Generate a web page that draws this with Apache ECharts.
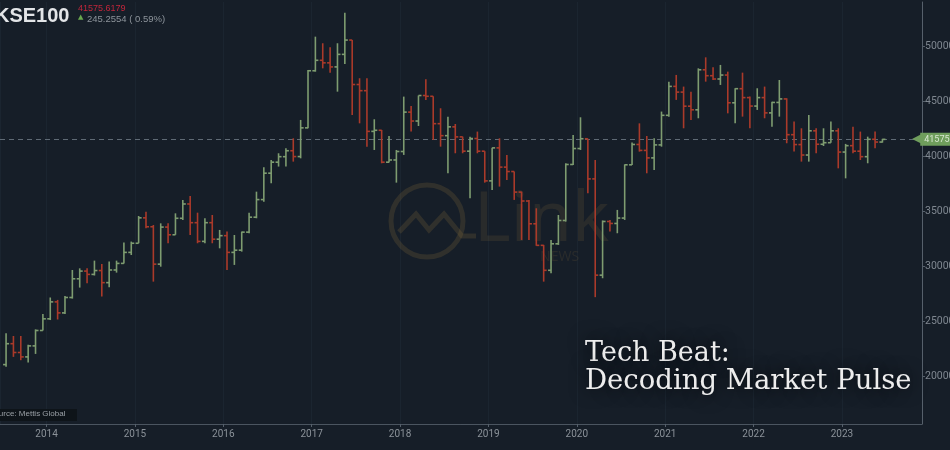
<!DOCTYPE html>
<html>
<head>
<meta charset="utf-8">
<script src="https://cdn.jsdelivr.net/npm/echarts@6/dist/echarts.min.js"></script>
<style>
  html, body { margin: 0; padding: 0; background: #161e28; }
  #chart { width: 950px; height: 450px; }
</style>
</head>
<body>
<div id="chart"></div>
<script>
// Monthly KSE100 bars, Jul 2013 - Jun 2023
const months = [
  '2013-07','2013-08','2013-09','2013-10','2013-11','2013-12',
  '2014-01','2014-02','2014-03','2014-04','2014-05','2014-06','2014-07','2014-08','2014-09','2014-10','2014-11','2014-12',
  '2015-01','2015-02','2015-03','2015-04','2015-05','2015-06','2015-07','2015-08','2015-09','2015-10','2015-11','2015-12',
  '2016-01','2016-02','2016-03','2016-04','2016-05','2016-06','2016-07','2016-08','2016-09','2016-10','2016-11','2016-12',
  '2017-01','2017-02','2017-03','2017-04','2017-05','2017-06','2017-07','2017-08','2017-09','2017-10','2017-11','2017-12',
  '2018-01','2018-02','2018-03','2018-04','2018-05','2018-06','2018-07','2018-08','2018-09','2018-10','2018-11','2018-12',
  '2019-01','2019-02','2019-03','2019-04','2019-05','2019-06','2019-07','2019-08','2019-09','2019-10','2019-11','2019-12',
  '2020-01','2020-02','2020-03','2020-04','2020-05','2020-06','2020-07','2020-08','2020-09','2020-10','2020-11','2020-12',
  '2021-01','2021-02','2021-03','2021-04','2021-05','2021-06','2021-07','2021-08','2021-09','2021-10','2021-11','2021-12',
  '2022-01','2022-02','2022-03','2022-04','2022-05','2022-06','2022-07','2022-08','2022-09','2022-10','2022-11','2022-12',
  '2023-01','2023-02','2023-03','2023-04','2023-05','2023-06'
];
const opens = [
  21100,23000,22200,21800,22800,24200,
  25260,26800,25800,27200,28900,29600,29300,29650,28550,29700,30300,31300,
  32130,34440,33630,30230,33600,32900,34400,35700,34000,32300,34000,32500,
  32820,31300,31500,33140,34500,36100,38500,39500,40000,40540,40010,42620,
  47810,48760,48530,48160,49300,50600,46560,46000,42300,42400,39500,39700,
  40470,44050,43240,45560,45490,43000,41910,42710,41800,40500,41650,40500,
  37800,40800,39050,38650,36780,35970,33900,31940,29670,32080,34200,39290,
  40740,41630,37980,29230,34110,33930,34420,39260,41110,40570,39890,41070,
  43760,46390,45870,44590,44260,47900,47360,47060,47420,44900,46180,45370,
  44600,45370,43980,44930,45250,42000,41100,40150,42350,41130,41270,42350,
  40420,41000,40500,40000,41580,41330
];
const closes = [
  23000,22200,21800,22800,24200,25260,
  26800,25800,27200,28900,29600,29300,29650,28550,29700,30300,31300,32130,
  34440,33630,30230,33600,32900,34400,35700,34000,32300,34000,32500,32820,
  31300,31500,33140,34500,36100,38500,39500,40000,40540,40010,42620,47810,
  48760,48530,48160,49300,50600,46560,46000,42300,42400,39500,39700,40470,
  44050,43240,45560,45490,43000,41910,42710,41800,40500,41650,40500,37800,
  40800,39050,38650,36780,35970,33900,31940,29670,32080,34200,39290,40740,
  41630,37980,29230,34110,33930,34420,39260,41110,40570,39890,41070,43760,
  46390,45870,44590,44260,47900,47360,47060,47420,44900,46180,45370,44600,
  45370,43980,44930,45250,42000,41100,40150,42350,41130,41270,42350,40420,
  41000,40500,40000,41580,41330,41575
];
const lows = [
  20900,21800,21500,21280,22070,24200,
  25150,25200,25700,27100,28100,28500,29200,27280,28130,29460,30300,31060,
  32130,33490,28640,30000,32130,32900,34250,32880,32130,32130,32130,31670,
  29700,30160,31370,33040,34400,35910,37580,39100,39100,39550,39850,42580,
  47730,48030,47640,45910,48430,43790,43030,40910,40610,39400,39460,37640,
  40160,42280,42790,45160,41520,40910,38490,40310,40310,36220,40310,37640,
  36970,37280,37880,36070,32430,32430,31900,28640,29400,31980,34100,39250,
  40610,36670,27230,28950,33190,33040,34250,39250,40460,38490,38790,40910,
  43640,45160,42580,43340,43490,46820,46970,46520,43940,43030,43640,42580,
  44250,43490,42730,43640,41220,40460,39550,39550,40310,40970,41270,38940,
  38030,40310,39700,39400,40760,41280
];
const highs = [
  23950,23700,23700,22900,24300,25700,
  27200,26980,27340,29700,29850,29850,30550,30250,30460,30550,32190,32280,
  34610,35000,33790,33940,33940,34850,36070,36430,34910,34400,34700,33340,
  33190,32880,33190,34910,36820,39030,39700,40310,40760,41670,43340,47880,
  50910,50310,49940,50310,53090,50610,47130,47130,43400,42430,41880,40610,
  45460,44610,45560,47030,45490,44400,43640,42970,41820,41820,42280,40500,
  40800,41670,40150,38650,36820,36070,35310,31980,32430,34700,39400,41970,
  43580,41630,39700,34200,34250,35160,39300,41280,43030,41880,41670,44100,
  46820,47430,46370,45910,48030,49030,48130,48340,47730,46220,47640,45460,
  46220,46370,45000,46970,45310,43190,42580,43790,42580,42580,43190,42580,
  41160,42730,42280,41820,42280,41620
];
const yearTicks = ['2014','2015','2016','2017','2018','2019','2020','2021','2022','2023'];
const lastPrice = 41575.6179;
const changeText = '245.2554 ( 0.59%)';

const UP = '#7e9c70', DOWN = '#aa3a2a';

// x value: fractional year at month centre
const seriesData = months.map((m, i) => {
  const [y, mo] = m.split('-').map(Number);
  return [y + (mo - 0.5) / 12, opens[i], closes[i], lows[i], highs[i]];
});

const chart = echarts.init(document.getElementById('chart'), null, { renderer: 'canvas' });

const option = {
  backgroundColor: '#161e28',
  animation: false,
  grid: { left: 0, right: 28, top: 2, bottom: 26, outerBoundsMode: 'none', containLabel: false },
  xAxis: {
    type: 'value',
    min: 2013.473,
    max: 2023.906,
    minInterval: 1,
    maxInterval: 1,
    splitNumber: 10,
    axisLine: { show: true, lineStyle: { color: '#4b5560', width: 1 } },
    axisTick: { show: true, length: 3, lineStyle: { color: '#56606b' } },
    axisLabel: {
      color: '#8b9299', fontSize: 10, fontFamily: 'Roboto', margin: 5,
      showMinLabel: false, showMaxLabel: false,
      formatter: v => { const s = String(Math.round(v)); return yearTicks.includes(s) ? s : ''; }
    },
    splitLine: { show: true, lineStyle: { color: '#1b2530', width: 1 } }
  },
  yAxis: {
    type: 'value',
    position: 'right',
    min: 15700,
    max: 54060,
    minInterval: 5000,
    maxInterval: 5000,
    splitNumber: 8,
    axisLine: { show: true, lineStyle: { color: '#56606b', width: 1 } },
    axisTick: { show: true, length: 3, lineStyle: { color: '#56606b' } },
    axisLabel: {
      color: '#7f8790', fontSize: 10.5, fontFamily: 'Roboto', margin: 3,
      showMinLabel: false, showMaxLabel: false,
      formatter: v => String(v)
    },
    splitLine: { show: false }
  },
  graphic: [
    // watermark
    { type: 'circle', shape: { cx: 427, cy: 221, r: 36 }, style: { fill: 'none', stroke: 'rgba(140,115,60,0.22)', lineWidth: 5 }, z: 1, silent: true },
    { type: 'polyline', shape: { points: [[399, 232], [416, 214], [429, 230], [444, 214], [462, 236], [476, 236]] }, style: { fill: 'none', stroke: 'rgba(140,115,60,0.22)', lineWidth: 5 }, z: 1, silent: true },
    { type: 'text', left: 474, top: 186, style: { text: 'Link', font: '70px "Noto Sans"', fill: 'rgba(140,115,60,0.16)' }, z: 1, silent: true },
    { type: 'text', left: 540, top: 250, style: { text: 'NEWS', font: '14px "Noto Sans"', fill: 'rgba(140,115,60,0.16)' }, z: 1, silent: true },
    // title
    { type: 'text', left: -5, top: 6, style: { text: 'KSE100', font: 'bold 20px "Liberation Sans"', fill: '#e3e5e8' }, z: 10 },
    { type: 'text', left: 78, top: 4, style: { text: lastPrice.toFixed(4), font: '9px "Liberation Sans"', fill: '#c2263b' }, z: 10 },
    { type: 'text', left: 78, top: 14, style: { text: '\u25B2', font: '7px "DejaVu Sans"', fill: '#6aa84f' }, z: 10 },
    { type: 'text', left: 87, top: 14, style: { text: changeText, font: '9.5px "Liberation Sans"', fill: '#8d949b' }, z: 10 },
    // source box
    { type: 'rect', shape: { x: 0, y: 409, width: 77, height: 12 }, style: { fill: '#0e1419' }, z: 10 },
    { type: 'text', left: -11, top: 410, style: { text: 'Source: Mettis Global', font: '8px "Liberation Sans"', fill: '#9aa0a6' }, z: 11 },
    // overlay caption
    { type: 'text', left: 585, top: 340, style: { text: 'Tech Beat:', font: '27px "DejaVu Serif"', fill: '#ededed', textShadowColor: 'rgba(0,0,0,0.95)', textShadowBlur: 18 }, z: 20 },
    { type: 'text', left: 585, top: 368, style: { text: 'Decoding Market Pulse', font: '27.5px "DejaVu Serif"', fill: '#ededed', textShadowColor: 'rgba(0,0,0,0.95)', textShadowBlur: 18 }, z: 20 }
  ],
  series: [{
    type: 'custom',
    data: seriesData,
    encode: { x: 0, y: [1, 2, 3, 4] },
    clip: true,
    z: 5,
    renderItem: (params, api) => {
      const x = api.value(0);
      const o = api.coord([x, api.value(1)]);
      const c = api.coord([x, api.value(2)]);
      const l = api.coord([x, api.value(3)]);
      const h = api.coord([x, api.value(4)]);
      const col = api.value(2) >= api.value(1) ? UP : DOWN;
      const st = { stroke: col, lineWidth: 1.6 };
      return {
        type: 'group',
        children: [
          { type: 'line', shape: { x1: h[0], y1: h[1], x2: l[0], y2: l[1] }, style: st },
          { type: 'line', shape: { x1: o[0] - 3, y1: o[1], x2: o[0], y2: o[1] }, style: st },
          { type: 'line', shape: { x1: c[0], y1: c[1], x2: c[0] + 3, y2: c[1] }, style: st }
        ]
      };
    },
    markLine: {
      silent: true,
      symbol: 'none',
      lineStyle: { type: [5, 4], color: '#5f6a75', width: 1 },
      data: [{ yAxis: lastPrice }],
      label: {
        show: true,
        position: 'end',
        distance: -10,
        formatter: '{a|\u25C0}{b|' + lastPrice.toFixed(4) + '}',
        rich: {
          a: { color: '#6f9e5c', fontSize: 12, fontFamily: 'DejaVu Sans', padding: [0, -1, 0, 0] },
          b: { backgroundColor: '#6f9e5c', color: '#d9e8d2', fontSize: 9, fontFamily: 'Roboto', padding: [2, 3, 2, 4], height: 9 }
        }
      }
    }
  }]
};
chart.setOption(option);
</script>
</body>
</html>
